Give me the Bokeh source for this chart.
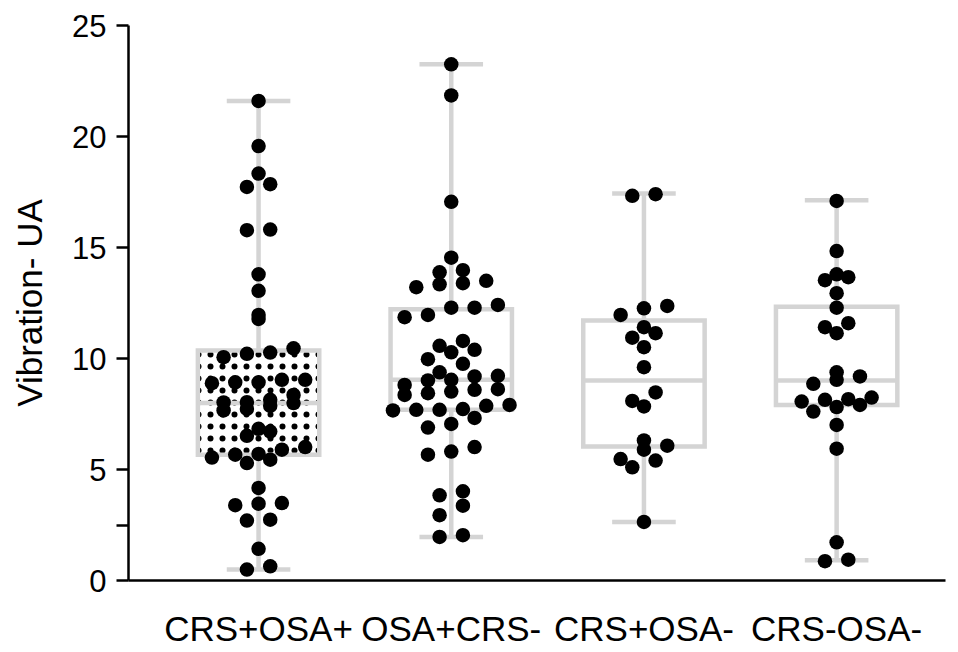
import numpy as np
from bokeh.plotting import figure
from bokeh.models import FixedTicker, Range1d, ColumnDataSource
from bokeh.embed import file_html
from bokeh.resources import INLINE

# ---------------- data ----------------
categories = ["CRS+OSA+", "OSA+CRS-", "CRS+OSA-", "CRS-OSA-"]

crs_pos_osa_pos = [21.6, 19.57, 18.33, 17.73, 17.85, 15.81, 15.78, 13.79, 13.05, 11.78, 11.96,
                   10.46, 10.21, 10.27, 10.06, 9.04, 8.93, 8.93, 8.89, 9.04, 8.36, 8.14, 8.02,
                   7.99, 7.87, 7.73, 7.66, 8.03, 6.83, 6.71, 6.52, 5.67, 5.70, 5.89, 6.01, 5.29,
                   5.44, 5.54, 4.17, 3.49, 3.46, 3.39, 2.74, 2.70, 1.43, 0.49, 0.64]
osa_pos_crs_neg = [23.25, 21.85, 17.06, 14.54, 13.88, 13.98, 13.50, 13.34, 13.21, 13.39, 12.29,
                   12.41, 12.29, 11.96, 11.86, 10.79, 10.28, 10.39, 10.57, 9.76, 9.97, 9.38,
                   9.22, 9.19, 8.81, 9.04, 9.01, 8.62, 8.59, 8.51, 8.36, 8.44, 7.87, 7.91, 7.72,
                   7.69, 7.66, 7.69, 7.32, 7.05, 6.89, 6.01, 5.81, 5.67, 3.84, 4.02, 3.37, 2.94,
                   1.96, 2.04]
crs_pos_osa_neg = [17.40, 17.33, 12.26, 12.37, 11.96, 11.41, 11.14, 10.94, 10.51, 9.61, 8.47,
                   8.09, 7.84, 6.31, 6.07, 5.89, 5.47, 5.40, 5.10, 2.64]
crs_neg_osa_neg = [17.10, 14.84, 13.79, 13.66, 13.53, 12.94, 12.29, 11.59, 11.14, 11.41, 9.38,
                   9.04, 9.19, 8.86, 8.17, 8.24, 8.06, 8.14, 7.91, 7.81, 7.61, 7.01, 5.94,
                   1.72, 0.87, 0.94]

# box statistics
whisker_low = [0.49, 1.96, 2.64, 0.91]
quartile_1 = [5.67, 7.69, 6.04, 7.91]
medians = [8.00, 9.04, 9.01, 9.01]
quartile_3 = [10.36, 12.22, 11.71, 12.33]
whisker_high = [21.6, 23.25, 17.43, 17.13]

y_ticks = [0, 5, 10, 15, 20, 25]
y_minor_ticks = [2.5]

groups = [crs_pos_osa_pos, osa_pos_crs_neg, crs_pos_osa_neg, crs_neg_osa_neg]

# ---------------- styling constants ----------------
GREY = "#d4d4d4"
BOX_HALF = 0.315
CAP_HALF = 0.165
COL_STEP = 0.121     # horizontal step between swarm columns (x units)
BIN_H = 0.64         # vertical bin height for the swarm (y units)
FONT = "Liberation Sans"

# ---------------- swarm layout (binned, GraphPad-like) ----------------
px, py = [], []
for gi, vals in enumerate(groups):
    centre = gi + 1
    vals = np.asarray(vals, dtype=float)
    bins = np.round(vals / BIN_H).astype(int)
    for b in np.unique(bins):
        members = np.sort(vals[bins == b])
        n = len(members)
        for k, v in enumerate(members):
            px.append(centre + (k - (n - 1) / 2.0) * COL_STEP)
            py.append(v)
pts = ColumnDataSource(dict(x=px, y=py))

centres = np.arange(1, len(categories) + 1, dtype=float)
box = ColumnDataSource(dict(
    x=centres, left=centres - BOX_HALF, right=centres + BOX_HALF,
    capl=centres - CAP_HALF, capr=centres + CAP_HALF,
    lo=whisker_low, q1=quartile_1, med=medians, q3=quartile_3, hi=whisker_high))

# ---------------- figure ----------------
p = figure(width=954, height=650, output_backend="svg", toolbar_location=None,
           x_range=Range1d(0.325, 4.565), y_range=Range1d(0, 25),
           min_border_left=128, min_border_right=9, min_border_top=25, min_border_bottom=69)
p.outline_line_color = None
p.xgrid.visible = False
p.ygrid.visible = False
p.background_fill_color = "white"

# whiskers
p.segment(x0="x", y0="q3", x1="x", y1="hi", source=box, line_color=GREY, line_width=4.5)
p.segment(x0="x", y0="lo", x1="x", y1="q1", source=box, line_color=GREY, line_width=4.5)
p.segment(x0="capl", y0="hi", x1="capr", y1="hi", source=box, line_color=GREY, line_width=4.5)
p.segment(x0="capl", y0="lo", x1="capr", y1="lo", source=box, line_color=GREY, line_width=4.5)

# boxes (first one dotted)
p.quad(left=[centres[0] - BOX_HALF], right=[centres[0] + BOX_HALF],
       bottom=[quartile_1[0]], top=[quartile_3[0]],
       fill_color="white", hatch_pattern="dot", hatch_color="black",
       hatch_scale=12, hatch_weight=1.0, line_color=GREY, line_width=4.5, line_join="miter")
other = ColumnDataSource(dict(left=list(centres[1:] - BOX_HALF), right=list(centres[1:] + BOX_HALF),
                              bottom=quartile_1[1:], top=quartile_3[1:]))
p.quad(left="left", right="right", bottom="bottom", top="top", source=other,
       fill_color="white", line_color=GREY, line_width=4.5, line_join="miter")
p.segment(x0="left", y0="med", x1="right", y1="med", source=box, line_color=GREY, line_width=4.5)

# points
p.scatter("x", "y", source=pts, size=14.5, fill_color="black", line_color=None)

# axes
p.yaxis.ticker = FixedTicker(ticks=y_ticks, minor_ticks=y_minor_ticks)
p.yaxis.axis_label = "Vibration- UA"
p.yaxis.axis_label_text_font = FONT
p.yaxis.axis_label_text_font_size = "35px"
p.yaxis.axis_label_text_font_style = "normal"
p.yaxis.axis_label_text_color = "black"
p.yaxis.axis_label_standoff = 20
p.yaxis.major_label_text_font = FONT
p.yaxis.major_label_text_font_size = "31px"
p.yaxis.major_label_text_color = "black"
p.yaxis.major_label_standoff = 10
p.yaxis.major_tick_out = 12
p.yaxis.major_tick_in = 0
p.yaxis.minor_tick_out = 12
p.yaxis.minor_tick_in = 0
p.yaxis.major_tick_line_width = 2.5
p.yaxis.minor_tick_line_width = 2.5
p.yaxis.major_tick_line_color = "black"
p.yaxis.minor_tick_line_color = "black"
p.yaxis.axis_line_width = 2.5
p.yaxis.axis_line_color = "black"

p.xaxis.ticker = FixedTicker(ticks=list(centres), minor_ticks=[])
p.xaxis.major_label_overrides = {float(c): name for c, name in zip(centres, categories)}
p.xaxis.major_label_text_font = FONT
p.xaxis.major_label_text_font_size = "35px"
p.xaxis.major_label_text_color = "black"
p.xaxis.major_label_standoff = 28
p.xaxis.major_tick_out = 0
p.xaxis.major_tick_in = 0
p.xaxis.axis_line_width = 2.5
p.xaxis.axis_line_color = "black"

open("out.html", "w").write(file_html(p, INLINE))
